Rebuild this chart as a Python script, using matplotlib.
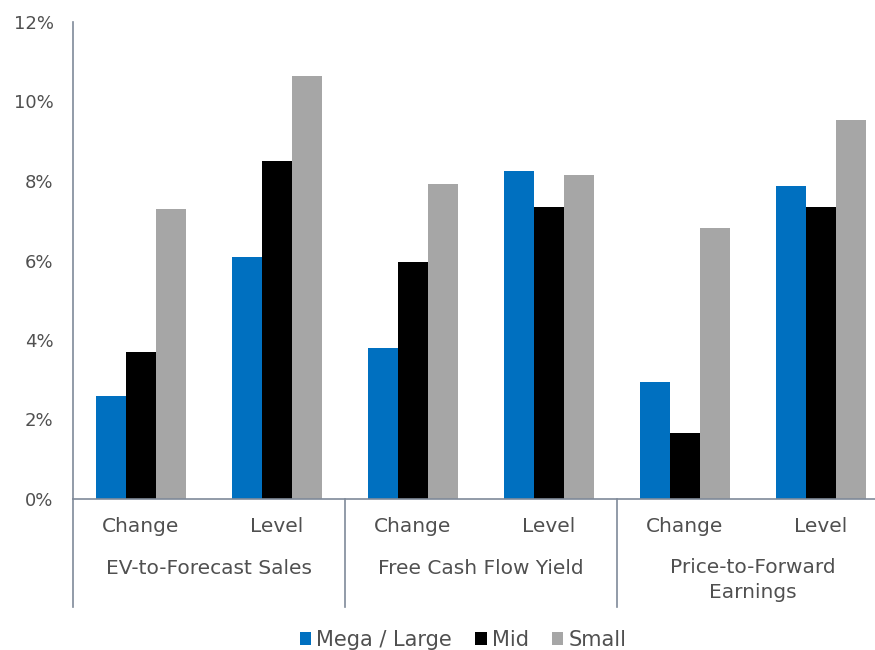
import matplotlib
matplotlib.use("Agg")
import matplotlib.pyplot as plt
import numpy as np
from matplotlib.patches import Patch

groups = ["EV-to-Forecast Sales", "Free Cash Flow Yield", "Price-to-Forward\nEarnings"]
subcats = ["Change", "Level"]
series_names = ["Mega / Large", "Mid", "Small"]
mega_large = [2.6, 6.1, 3.8, 8.25, 2.95, 7.87]
mid = [3.7, 8.5, 5.97, 7.35, 1.65, 7.35]
small = [7.3, 10.65, 7.92, 8.15, 6.82, 9.53]
colors = ["#0070C0", "#000000", "#A6A6A6"]
yticks = [0, 2, 4, 6, 8, 10, 12]

plt.rcParams['font.family'] = ['DejaVu Sans']
text_color = "#505050"
axis_color = "#7F8A99"

fig = plt.figure(figsize=(8.75, 6.5), dpi=100)
ax = fig.add_axes([73/875, 151/650, (889-73)/875, (499-22)/650])

n = len(mega_large)
x = np.arange(n)
w = 0.22
for i, (vals, c) in enumerate(zip([mega_large, mid, small], colors)):
    ax.bar(x + (i - 1) * w, vals, width=w, color=c, label=series_names[i], zorder=2)

ax.set_xlim(-0.5, n - 0.5)
ax.set_ylim(0, 12)
ax.set_yticks(yticks)
ax.set_yticklabels([f"{t}%" for t in yticks], fontsize=13, color=text_color)
ax.tick_params(axis='y', length=0, pad=14)
ax.set_xticks([])

for s in ['top', 'right']:
    ax.spines[s].set_visible(False)
ax.spines['left'].set_color(axis_color)
ax.spines['bottom'].set_color(axis_color)
ax.spines['left'].set_linewidth(1.2)
ax.spines['bottom'].set_linewidth(1.2)

trans = ax.get_xaxis_transform()
# sub-category labels
for i in range(n):
    ax.annotate(subcats[i % 2], xy=(x[i], 0), xycoords=trans,
                xytext=(0, -28 * 0.72), textcoords='offset points',
                ha='center', va='center', fontsize=14.5, color=text_color)
# group labels
for g, name in enumerate(groups):
    off = -81 if '\n' in name else -69
    ax.annotate(name, xy=(2 * g + 0.5, 0), xycoords=trans,
                xytext=(0, off * 0.72), textcoords='offset points',
                ha='center', va='center', multialignment='center',
                fontsize=14.5, color=text_color, linespacing=1.45)
# separators
axes_h_px = 499 - 22
for b in [-0.5, 1.5, 3.5, 5.5]:
    ax.plot([b, b], [0, -(607 - 499) / axes_h_px], transform=trans,
            color=axis_color, lw=1.2, clip_on=False)

handles = [Patch(facecolor=c, edgecolor='none') for c in colors]
fig.legend(handles, series_names, loc='center', bbox_to_anchor=(463/875, 10/650),
           ncol=3, frameon=False, fontsize=15, handlelength=0.55, handleheight=0.55,
           handletextpad=0.25, columnspacing=1.1, labelcolor=text_color,
           borderpad=0, borderaxespad=0)

fig.savefig("out.png", dpi=100)
